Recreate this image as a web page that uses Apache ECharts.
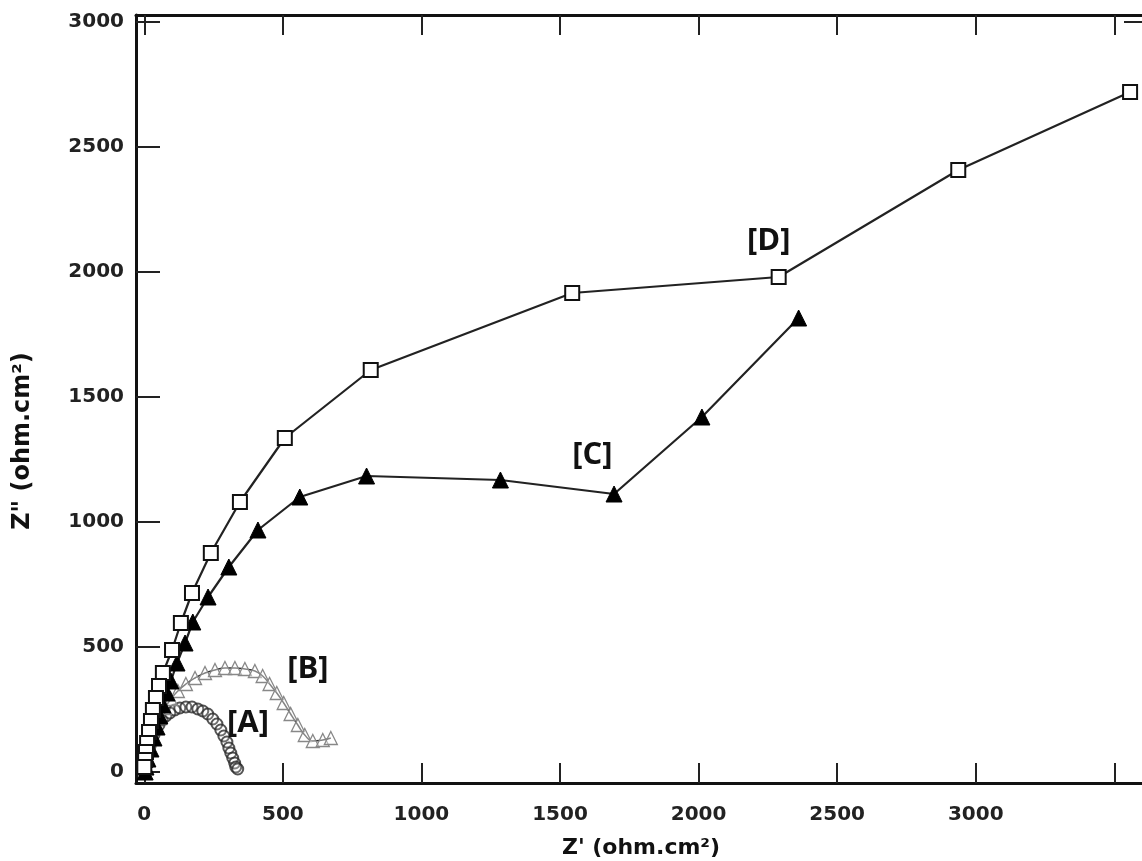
<!DOCTYPE html>
<html>
<head>
<meta charset="utf-8">
<script src="https://cdn.jsdelivr.net/npm/echarts@6/dist/echarts.min.js"></script>
<style>html,body{margin:0;padding:0;background:#fff;}#c{width:1142px;height:861px;}</style>
</head>
<body>
<div id="c"></div>
<script>
// ---- data (Z' , Z'') in ohm.cm2 ----
var seriesD = [[3557,2720],[2937,2408],[2289,1980],[1544,1916],[817,1608],[507,1336],[345,1080],[240,876],[172,716],[132,596],[100,488],[67,396],[53,344],[42,296],[31,248],[24,204],[17,160],[10,116],[6,80],[3,48],[0,20]];
var seriesC = [[2361,1816],[2012,1420],[1695,1112],[1285,1168],[802,1184],[561,1100],[410,968],[305,820],[230,700],[175,600],[147,516],[118,436],[96,364],[82,316],[67,268],[56,224],[46,180],[35,136],[24,92],[13,52],[6,20],[3,0]];
var seriesB = [[6,16],[13,56],[21,96],[31,136],[42,176],[56,216],[74,256],[96,292],[121,324],[150,352],[183,376],[219,396],[255,408],[291,416],[327,416],[363,412],[399,404],[427,384],[452,352],[478,316],[503,276],[528,232],[554,188],[579,148],[608,124],[644,128],[673,136]];
var seriesA = [[3,8],[6,32],[10,56],[17,80],[21,104],[28,128],[35,148],[42,168],[53,188],[64,208],[78,224],[92,236],[110,248],[128,256],[150,260],[172,260],[193,252],[211,244],[229,232],[247,212],[262,192],[276,168],[287,144],[298,120],[305,96],[312,76],[319,56],[326,36],[330,20],[337,12]];
var xTickValues = [0,500,1000,1500,2000,2500,3000,3500];
var xLabelValues = [0,500,1000,1500,2000,2500,3000];
var yTickValues = [0,500,1000,1500,2000,2500,3000];
var labelA = {text:'[A]', at:[374,196]};
var labelB = {text:'[B]', at:[590,412]};
var labelC = {text:'[C]', at:[1617,1268]};
var labelD = {text:'[D]', at:[2253,2124]};
var xTitle = "Z' (ohm.cm²)";
var yTitle = 'Z" (ohm.cm²)';

function plain(v){ return String(v); }
var tickFont = {color:'#222', fontFamily:'DejaVu Sans', fontWeight:'bold', fontSize:20};
function mark(l){
  return {silent:true, animation:false, data:[{coord:l.at, symbol:'circle', symbolSize:1, itemStyle:{color:'rgba(0,0,0,0)'},
    label:{show:true, position:'inside', formatter:l.text, color:'#111', fontFamily:'Open Sans', fontWeight:'bold', fontSize:31}}]};
}
var chart = echarts.init(document.getElementById('c'), null, {renderer:'canvas'});
chart.setOption({
  animation:false,
  backgroundColor:'#fff',
  grid:{left:136, top:15, width:1008, height:768},
  xAxis:[{
    type:'value', min:-30, max:3600, position:'bottom',
    axisLine:{show:true, onZero:false, lineStyle:{color:'#111', width:3}},
    axisTick:{show:true, inside:true, length:20, lineStyle:{color:'#222', width:2}, customValues:xTickValues},
    axisLabel:{show:true, margin:22, formatter:plain, customValues:xLabelValues, color:tickFont.color, fontFamily:tickFont.fontFamily, fontWeight:tickFont.fontWeight, fontSize:tickFont.fontSize},
    splitLine:{show:false}
  },{
    type:'value', min:-30, max:3600, position:'top',
    axisLine:{show:true, onZero:false, lineStyle:{color:'#111', width:3}},
    axisTick:{show:true, inside:true, length:20, lineStyle:{color:'#222', width:2}, customValues:xTickValues},
    axisLabel:{show:false},
    splitLine:{show:false}
  }],
  yAxis:[{
    type:'value', min:-44, max:3028, position:'left',
    axisLine:{show:true, onZero:false, lineStyle:{color:'#111', width:3}},
    axisTick:{show:true, inside:true, length:24, lineStyle:{color:'#222', width:2}, customValues:yTickValues},
    axisLabel:{show:true, margin:12, formatter:plain, customValues:yTickValues, color:tickFont.color, fontFamily:tickFont.fontFamily, fontWeight:tickFont.fontWeight, fontSize:tickFont.fontSize},
    splitLine:{show:false}
  },{
    type:'value', min:-44, max:3028, position:'right',
    axisLine:{show:false, onZero:false},
    axisTick:{show:true, inside:true, length:18, lineStyle:{color:'#222', width:2}, customValues:[3000]},
    axisLabel:{show:false},
    splitLine:{show:false}
  }],
  graphic:[
    {type:'text', x:641, y:848, style:{text:xTitle, font:'bold 22px "DejaVu Sans"', fill:'#111', align:'center', verticalAlign:'middle', textAlign:'center', textVerticalAlign:'middle'}},
    {type:'text', x:23, y:441, rotation:Math.PI/2, style:{text:yTitle, font:'bold 24px "DejaVu Sans"', fill:'#111', align:'center', verticalAlign:'middle', textAlign:'center', textVerticalAlign:'middle'}}
  ],
  series:[
    {name:'A', type:'scatter', data:seriesA, symbol:'circle', symbolSize:11,
      itemStyle:{color:'rgba(255,255,255,0.2)', borderColor:'#2a2a2a', borderWidth:2}, markPoint:mark(labelA), z:2},
    {name:'B', type:'line', data:seriesB, smooth:true, symbol:'triangle', symbolSize:13, showAllSymbol:true,
      lineStyle:{color:'#333', width:1.5}, itemStyle:{color:'rgba(255,255,255,0.4)', borderColor:'#888', borderWidth:1.3}, markPoint:mark(labelB), z:3},
    {name:'C', type:'line', data:seriesC, symbol:'triangle', symbolSize:16, showAllSymbol:true,
      lineStyle:{color:'#222', width:2.2}, itemStyle:{color:'#000', borderColor:'#000', borderWidth:1}, markPoint:mark(labelC), z:4},
    {name:'D', type:'line', data:seriesD, symbol:'rect', symbolSize:14, showAllSymbol:true,
      lineStyle:{color:'#222', width:2.2}, itemStyle:{color:'#fff', borderColor:'#111', borderWidth:2}, markPoint:mark(labelD), z:5}
  ]
});
</script>
</body>
</html>
